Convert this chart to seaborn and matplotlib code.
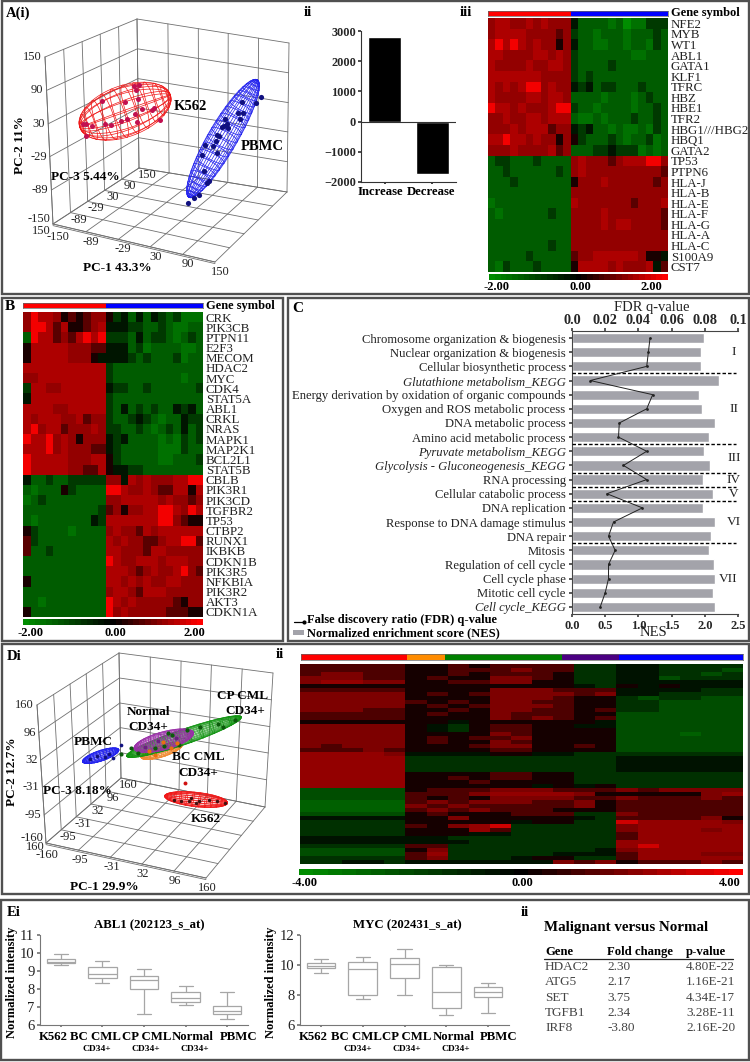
import numpy as np
import pandas as pd
import matplotlib
matplotlib.use("Agg")
import matplotlib.pyplot as plt
from matplotlib.colors import LinearSegmentedColormap
from matplotlib.patches import Rectangle
import seaborn as sns

# ---------- data ----------
# PCA A: PC-1, PC-2 per sample (K562 sits at PC-3 = -60, PBMC at PC-3 = 0)
a_k562_pc1 = [-137, -131, -120, -99, -95, -84, -66, -57, -55, -40, -36, -40, -36, -30, -34, -26, -7, -4, 6, -131]
a_k562_pc2 = [8, 9, 7, 58, 17, 17, 28, 65, 35, 46, 33, 98, 93, 103, 76, 59, 61, 65, 46, -14]
a_pbmc_pc1 = [28, 40, 49, 65, 69, 59, 55, 84, 61, 76, 82, 88, 94, 96, 103, 105, 98, 123, 132, 127, 131, 156, 165, 84]
a_pbmc_pc2 = [-128, -116, -109, -83, -78, -61, -31, -22, -11, -10, 1, 12, 30, 32, 38, 30, 46, 62, 64, 52, 85, 88, 101, 13]
a_ticks = [-150, -89, -29, 30, 90, 150]

# PCA D: PC-1, PC-2 per sample (all at PC-3 = 0)
d_k562_pc1 = [30, 44, 61, 82, 103, 119, 136, 65, 76]
d_k562_pc2 = [-90, -89, -87, -80, -75, -74, -75, -79, -87]
d_k562_out = [53, -46]
d_pbmc_pc1 = [-77, -143, -127, -112, -95, -102]
d_pbmc_pc2 = [18, -31, -20, -19, -17, -9]
d_cp_pc1 = [-79, -58, -43, -8, 17, 26, 55, 82, 117, 128, 151, 9, 40]
d_cp_pc2 = [-6, 13, 5, 25, 64, 63, 79, 91, 106, 101, 121, 33, 41]
d_bc_pc1 = [-20, 7, 23, 36, -8]
d_bc_pc2 = [15, 42, 30, 45, 8]
d_normal_pc1 = [-29, -2, 34]
d_normal_pc2 = [22, 43, 56]
d_ticks = [-160, -95, -31, 32, 96, 160]

# bars, panel A ii
change_labels = ["Increase", "Decrease"]
change_counts = [2800, -1720]

# heatmap cells: one digit per cell, see heat_levels
heat_levels = [-2, -1.6, -1.3, -0.8, -0.3, 0.2, 0.7, 1.15, 1.35, 1.9]

a_genes = ["NFE2", "MYB", "WT1", "ABL1", "GATA1", "KLF1", "TFRC", "HBZ", "HBE1", "TFR2", "HBG1///HBG2", "HBQ1",
           "GATA2", "TP53", "PTPN6", "HLA-J", "HLA-B", "HLA-E", "HLA-F", "HLA-G", "HLA-A", "HLA-C", "S100A9", "CST7"]
a_cells = [
    "78877878777|4222212011333", "78888777767|3221222122232", "89898787757|4221122122132",
    "88777788787|3222222211222", "87777877887|3222232222222", "88888887777|3232222222222",
    "87878997877|4342332223222", "87777887887|2222122212322", "98878777899|3221222212232",
    "77877887888|2112122232232", "77787888677|4342212112132", "88988787757|5322232122312",
    "77787777867|2223343331212", "23322232222|7877767888997", "22322222232|7877777777776",
    "22232222222|5777877777767", "22222222222|7777777777777", "12222222222|8777777767778",
    "21222222322|7777877777776", "22222222222|7777878877776", "22222222222|7777777777777",
    "22222222322|7777777777777", "22222322222|6778888887554", "21322232222|5888878777846",
]

b_genes = ["CRK", "PIK3CB", "PTPN11", "E2F3", "MECOM", "HDAC2", "MYC", "CDK4", "STAT5A", "ABL1", "CRKL", "NRAS",
           "MAPK1", "MAP2K1", "BCL2L1", "STAT5B", "CBLB", "PIK3R1", "PIK3CD", "TGFBR2", "TP53", "CTBP2", "RUNX1",
           "IKBKB", "CDKN1B", "PIK3R5", "NFKBIA", "PIK3R2", "AKT3", "CDKN1A"]
b_cells = [
    "79887565677|5342424323111", "79986855678|4443322321122", "29886768989|3332423321232",
    "58888877766|4442312222112", "58888877754|4443232223122", "88888888888|3222222222222",
    "77888888888|3222222222122", "38877888888|4332232222223", "48888888888|3222222222222",
    "88887788888|3242323224342", "87888778677|3223432122433", "89788677787|3322321232423",
    "98897875777|4342222121323", "88897877766|4322222111322", "98888877788|5322222112223",
    "98888877668|5443322222222", "42232233333|7748787778899", "21222532222|9987787668858",
    "12322222222|7788888787767", "22222222223|6757788998798", "21222222243|8888888997655",
    "53222212222|7877687888888", "63222222222|8787766788996", "62232222222|8877768877777",
    "22222222222|9877888788877", "22222222222|8887678778976", "52222222222|8878787788777",
    "22222222222|7887688877777", "22122222222|9878777776577", "52222222222|9787777766655",
]

d_cells = [
    "66666|5565666633|443333", "66666|5566676633|443332", "67766|5565666533|443323", "77766|5655776533|442333",
    "78877|5566775533|444444", "55555|5555555543|545444", "66666|5555777666|444433", "77777|5656777767|443333",
    "77777|5555777655|323322", "77777|6565776655|332222", "77777|5656777655|332222", "77766|5565776656|332222",
    "66666|5655766655|222222", "66666|5555767656|222222", "55555|5545555554|222222", "77777|5435665544|222222",
    "77777|5435665555|222222", "77777|5555765555|222122", "77777|5656675555|222222", "77777|5655765555|222222",
    "76777|5556775565|222222", "66676|5555665555|222222", "88887|4444554433|333333", "88888|3333333333|444444",
    "88888|3333333333|444444", "88888|3333333333|444444", "88888|3333333333|444444", "88888|5555665533|333333",
    "88888|5565665533|333333", "88888|5556555533|333333", "88888|5555554545|333333", "22222|5666777666|767777",
    "22222|6667888875|555578", "22222|6565777766|766676", "11111|6767776675|666666", "11111|7676666675|666666",
    "11111|6767666555|666666", "22222|5655566633|766666", "44444|5575555543|666675", "33333|5555545533|988887",
    "33333|6578933333|788888", "33333|5558633333|788878", "33333|5554433333|688888", "44444|4433333333|688888",
    "44444|4443333333|888888", "33333|6633333333|898888", "22222|5733333334|788888", "22222|6833333444|688877",
    "33333|6733345533|688888", "33443|4444444767|566676",
]

# enrichment, panel C
terms = ["Chromosome organization & biogenesis", "Nuclear organization & biogenesis", "Cellular biosynthetic process",
         "Glutathione metabolism_KEGG", "Energy derivation by oxidation of organic compounds",
         "Oxygen and ROS metabolic process", "DNA metabolic process", "Amino acid metabolic process",
         "Pyruvate metabolism_KEGG", "Glycolysis - Gluconeogenesis_KEGG", "RNA processing",
         "Cellular catabolic process", "DNA replication", "Response to DNA damage stimulus", "DNA repair", "Mitosis",
         "Regulation of cell cycle", "Cell cycle phase", "Mitotic cell cycle", "Cell cycle_KEGG"]
nes = [1.99, 1.94, 1.95, 2.21, 1.92, 1.96, 2.15, 2.06, 1.99, 2.08, 1.98, 2.13, 1.98, 2.15, 2.10, 2.07, 2.14, 2.15, 2.12, 2.15]
fdr = [.047, .046, .045, .011, .0486, .045, .0285, .028, .045, .031, .045, .021, .0424, .025, .022, .026, .022, .022, .020, .017]
term_breaks = [2.5, 7.5, 9.5, 10.5, 11.5, 14.5]

# box plots, panel E: whisker low, q1, median, q3, whisker high
box_groups = ["K562", "BC CML", "CP CML", "Normal", "PBMC"]
abl1_stats = [[9.34, 9.43, 9.52, 9.65, 9.93], [8.32, 8.6, 8.82, 9.21, 9.58], [6.6, 8.0, 8.5, 8.73, 9.1],
              [7.09, 7.27, 7.51, 7.83, 8.14], [6.33, 6.59, 6.79, 7.03, 7.83]]
myc_stats = [[9.45, 9.83, 9.96, 10.12, 10.38], [7.73, 7.99, 9.76, 10.2, 10.56], [7.99, 9.14, 10.08, 10.5, 11.05],
             [6.69, 7.13, 8.19, 9.9, 10.0], [6.82, 7.9, 8.19, 8.52, 8.83]]

# table, panel E ii
table_genes = ["HDAC2", "ATG5", "SET", "TGFB1", "IRF8"]
table_fold = ["2.30", "2.17", "3.75", "2.34", "-3.80"]
table_p = ["4.80E-22", "1.16E-21", "4.34E-17", "3.28E-11", "2.16E-20"]

# ---------- setup ----------
W, H = 750, 1062
sns.set_theme(style="white")
plt.rcParams["font.family"] = ["Liberation Serif", "DejaVu Serif"]
plt.rcParams["axes.linewidth"] = 0.8

fig = plt.figure(figsize=(W / 100, H / 100), dpi=100, facecolor="white")
heat_cmap = LinearSegmentedColormap.from_list("gbr", ["#008c00", "#000000", "#ff0000"])


def px_axes(x0, y0, x1, y1):
    return fig.add_axes([x0 / W, 1 - y1 / H, (x1 - x0) / W, (y1 - y0) / H])


over = fig.add_axes([0, 0, 1, 1], zorder=10)
over.set_xlim(0, W)
over.set_ylim(H, 0)
over.axis("off")


def put(x, y, s, size=9.5, weight="normal", ha="center", color="black", **kw):
    over.text(x, y, s, fontsize=size, fontweight=weight, ha=ha, va="center", color=color, **kw)


def frame(x0, y0, x1, y1):
    over.add_patch(Rectangle((x0, y0), x1 - x0, y1 - y0, fill=False, ec="#505050", lw=1.7))


def parse_cells(rows):
    return np.array([[heat_levels[int(c)] for c in r.replace("|", "")] for r in rows])


def heat(cells, box, vmax=2.0, gain=1.0, genes=None):
    ax = px_axes(*box)
    labels = genes if genes is not None else False
    sns.heatmap(parse_cells(cells) * gain, ax=ax, cmap=heat_cmap, vmin=-vmax, vmax=vmax, cbar=False,
                xticklabels=False, yticklabels=labels)
    if genes is not None:
        ax.yaxis.tick_right()
        ax.tick_params(axis="y", length=0, pad=2, labelsize=9.3, labelrotation=0, labelcolor="#222222")
    return ax


def colour_key(box, ticks):
    ax = px_axes(*box)
    sns.heatmap(np.linspace(-2, 2, 31).reshape(1, -1), ax=ax, cmap=heat_cmap, vmin=-2, vmax=2, cbar=False,
                xticklabels=False, yticklabels=False)
    for x, label in ticks:
        put(x, box[3] + 7.5, label, size=9, weight="bold")


def strip(box, widths, colours):
    ax = px_axes(*box)
    left = 0
    for w, c in zip(widths, colours):
        ax.barh(0, w, left=left, height=1, color=c, lw=0)
        left += w
    ax.set_xlim(0, left)
    ax.set_ylim(-0.5, 0.5)
    ax.set_xticks([])
    ax.set_yticks([])
    for s in ax.spines.values():
        s.set_color("#666666")
        s.set_linewidth(0.5)


# ---------- pseudo 3D pca boxes ----------
def project(box, p1, p2, p3):
    p1, p2, p3 = np.asarray(p1, float), np.asarray(p2, float), np.asarray(p3, float)
    lim = box["lim"]
    u, v, w = (p1 + lim) / (2 * lim), (p2 + lim) / (2 * lim), (p3 + lim) / (2 * lim)
    xy = []
    for i in range(2):
        floor = ((1 - u) * (1 - w) * box["floor"][0][i] + u * (1 - w) * box["floor"][1][i]
                 + (1 - u) * w * box["floor"][2][i] + u * w * box["floor"][3][i])
        top = ((1 - u) * (1 - w) * box["top"][0][i] + u * (1 - w) * box["top"][1][i]
               + (1 - u) * w * box["top"][2][i] + u * w * box["top"][3][i])
        xy.append(floor * (1 - v) + top * v)
    return xy


def draw_box(box, ticks):
    lim = box["lim"]
    segs = []
    for t in ticks:
        segs += [((t, -lim, -lim), (t, -lim, lim)), ((-lim, -lim, t), (lim, -lim, t)),
                 ((-lim, -lim, t), (-lim, lim, t)), ((-lim, t, -lim), (-lim, t, lim)),
                 ((t, -lim, lim), (t, lim, lim)), ((-lim, t, lim), (lim, t, lim))]
    segs.append(((-lim, -lim, -lim), (-lim, lim, -lim)))
    for a, b in segs:
        x, y = project(box, [a[0], b[0]], [a[1], b[1]], [a[2], b[2]])
        over.plot(x, y, color="#707070", lw=0.6, zorder=1)
    for off in (0, 1.6):
        x, y = project(box, [-lim, lim], [-lim, -lim], [-lim, -lim])
        over.plot(x, y + off, color="#707070", lw=0.6, zorder=1)


def wire(box, centre, a, b, c, colour, n_lat, n_lon, lw=0.5):
    centre, a, b, c = [np.array(q, float) for q in (centre, a, b, c)]
    pts = lambda th, ph: (centre[:, None] + a[:, None] * np.cos(th) + b[:, None] * np.sin(th) * np.cos(ph)
                          + c[:, None] * np.sin(th) * np.sin(ph))
    t = np.linspace(0, np.pi, 40)
    for ph in np.linspace(0, 2 * np.pi, n_lon, endpoint=False):
        x, y = project(box, *pts(t, np.full_like(t, ph)))
        over.plot(x, y, color=colour, lw=lw, zorder=2)
    f = np.linspace(0, 2 * np.pi, 60)
    for th in np.linspace(0, np.pi, n_lat + 2)[1:-1]:
        x, y = project(box, *pts(np.full_like(f, th), f))
        over.plot(x, y, color=colour, lw=lw, zorder=2)


def dots(box, pc1, pc2, pc3, colour, size):
    x, y = project(box, pc1, pc2, np.full(len(pc1), pc3))
    sns.scatterplot(x=x, y=y, color=colour, s=size, linewidth=0, ax=over, zorder=3, legend=False)


box_a = {"lim": 150, "floor": [(53, 224), (215, 262), (139, 168), (287, 192)],
         "top": [(45, 57), (217, 97), (137, 19), (289, 43)]}
box_d = {"lim": 160, "floor": [(46, 843), (206, 878), (121, 778), (265, 807)],
         "top": [(37, 705), (207, 735), (119, 653), (273, 673)]}

# frames
frame(2, 1, 749, 294)
frame(2, 298, 283, 641)
frame(288, 298, 749, 641)
frame(2, 644, 749, 894)
frame(1, 900, 749, 1060)

# ---------- panel A i ----------
draw_box(box_a, a_ticks)
wire(box_a, (-58, 48, -60), (84, 48, 0), (14, -42, 0), (0, 0, 16), "#f01818", 12, 16)
wire(box_a, (94, 8, 0), (64, 125, 0), (24, -9, 0), (0, 0, 12), "#2222ee", 24, 16)
dots(box_a, a_k562_pc1, a_k562_pc2, -60, "#c21050", 13)
dots(box_a, a_pbmc_pc1, a_pbmc_pc2, 0, "#101080", 14)
for t in a_ticks:
    x, y = project(box_a, -150, t, -150)
    put(x - 3, y - (5 if t == -150 else 0), str(t), ha="right", size=9, color="#222222")
    x, y = project(box_a, t, -150, -150)
    put(x + 5, y + (13 if t == -150 else 10), str(t), size=9, color="#222222")
    if t > -150:
        x, y = project(box_a, -150, -150, t)
        put(x + 8, y + 7, str(t), size=9, color="#222222")
put(41, 231, "150", size=9, color="#222222")
put(6, 13, "A(i)", size=10.5, weight="bold", ha="left")
put(20, 145, "PC-2 11%", weight="bold", rotation=90)
put(85, 177, "PC-3 5.44%", weight="bold")
put(117, 268, "PC-1 43.3%", weight="bold")
put(190, 106, "K562", size=10.5, weight="bold")
put(262, 147, "PBMC", size=10.5, weight="bold")

# ---------- panel A ii ----------
put(308, 13, "ii", size=10.5, weight="bold")
ax = px_axes(361, 31, 456, 182)
sns.barplot(x=change_labels, y=change_counts, color="black", saturation=1, width=0.7, ax=ax)
ax.set_ylim(-2000, 3000)
ax.axhline(0, color="#333333", lw=0.8)
sns.despine(ax=ax)
ax.set_yticks([-2000, -1000, 0, 1000, 2000, 3000])
ax.set_xticklabels([])
ax.tick_params(axis="y", labelsize=8.8, left=True, length=2.5, pad=1, color="#333333")
ax.tick_params(axis="x", bottom=True, length=1.5)
for lab in ax.get_yticklabels():
    lab.set_fontweight("bold")
for s in ax.spines.values():
    s.set_color("#333333")
put(380, 192, change_labels[0], size=9.2, weight="bold")
put(431, 192, change_labels[1], size=9.2, weight="bold")

# ---------- panel A iii ----------
put(466, 13, "iii", size=10.5, weight="bold")
strip((488, 10.5, 668, 16), [83, 97], ["#ff0000", "#0000ff"])
heat(a_cells, (488, 18, 668, 272), genes=a_genes)
put(671, 13, "Gene symbol", size=9, weight="bold", ha="left")
colour_key((489, 274, 668, 280), [(497, "-2.00"), (580, "0.00"), (651, "2.00")])

# ---------- panel B ----------
put(10, 307, "B", size=11, weight="bold")
strip((23, 303, 203, 308), [83, 97], ["#ff0000", "#0000ff"])
heat(b_cells, (23, 312, 203, 617), genes=b_genes)
put(206, 306, "Gene symbol", size=9, weight="bold", ha="left")
colour_key((23, 619, 203, 625), [(31, "-2.00"), (115, "0.00"), (194, "2.00")])

# ---------- panel C ----------
put(298, 309, "C", size=11, weight="bold")
ax = px_axes(572, 331, 738, 614)
sns.barplot(x=nes, y=terms, orient="h", color="#a3a3aa", saturation=1, width=0.72, ax=ax)
ax.set_xlim(0, 2.5)
ax.set_ylim(19.5, -0.5)
ax.hlines(term_breaks, 0, 2.47, color="black", lw=1, linestyles=(0, (2.5, 1.5)), zorder=3)
sns.despine(ax=ax)
ax.tick_params(axis="y", left=True, length=2.5, pad=2, labelsize=9.1, color="#444444", labelcolor="#222222")
ax.tick_params(axis="x", bottom=True, length=2, pad=2, labelsize=9, color="#444444")
ax.set_xticks([0, 0.5, 1, 1.5, 2, 2.5])
ax.set_xticklabels(["0.0", "0.5", "1.0", "1.5", "2.0", "2.5"], fontweight="bold")
for lab in ax.get_yticklabels():
    if "KEGG" in lab.get_text():
        lab.set_fontstyle("italic")
for s in ax.spines.values():
    s.set_color("#444444")
top = ax.twiny()
sns.lineplot(x=fdr, y=np.arange(len(fdr)), sort=False, orient="y", color="#222222", lw=0.7, marker="o", ms=2,
             markeredgewidth=0, ax=top, estimator=None)
top.set_xlim(0, 0.1)
top.set_ylim(19.5, -0.5)
top.set_xticks([0, .02, .04, .06, .08, .1])
top.set_xticklabels(["0.0", "0.02", "0.04", "0.06", "0.08", "0.1"], fontweight="bold", fontsize=10.3)
top.tick_params(axis="x", top=True, length=2, pad=1, color="#444444")
for name, s in top.spines.items():
    s.set_visible(name == "top")
    s.set_color("#444444")
put(652, 307, "FDR q-value", size=10.5, color="#222222")
put(653, 633, "NES", size=10.5, color="#222222")
for label, row in [("I", 1), ("II", 5), ("III", 8.5), ("IV", 10), ("V", 11), ("VI", 13), ("VII", 17)]:
    put(734 if label != "VII" else 728, 338 + 14.16 * row, label, size=9.5, color="#222222")
over.plot([294, 304], [622, 622], color="black", lw=0.9, marker="o", ms=2, markevery=[1])
over.add_patch(Rectangle((293, 630), 11, 5, color="#a3a3aa", lw=0))
put(307, 620, "False discovery ratio (FDR) q-value", size=9, weight="bold", ha="left")
put(307, 633, "Normalized enrichment score (NES)", size=9, weight="bold", ha="left")

# ---------- panel D i ----------
draw_box(box_d, d_ticks)
wire(box_d, (-120, -18, 0), (37.5, 23, 0), (4, -11, 0), (0, 0, 6), "#2222ee", 16, 18)
wire(box_d, (5, 20, 0), (42, 24, 0), (3, -13, 0), (0, 0, 6), "#f08a30", 14, 18)
wire(box_d, (48.5, 61.6, 0), (115, 69, 0), (5, -16, 0), (0, 0, 6), "#129412", 14, 20)
wire(box_d, (9, 45, 0), (60, 31, 0), (4, -20, 0), (0, 0, 6), "#9a30a8", 16, 20)
wire(box_d, (76, -79, 0), (65, 6, 0), (-2, -17, 0), (0, 0, 6), "#f01818", 14, 20)
dots(box_d, d_pbmc_pc1, d_pbmc_pc2, 0, "#101080", 7)
dots(box_d, d_cp_pc1, d_cp_pc2, 0, "#0c5a0c", 9)
dots(box_d, d_bc_pc1, d_bc_pc2, 0, "#e87010", 9)
dots(box_d, d_normal_pc1, d_normal_pc2, 0, "#6a2080", 8)
dots(box_d, d_k562_pc1, d_k562_pc2, 0, "#401010", 6)
dots(box_d, [d_k562_out[0]], [d_k562_out[1]], 0, "#d01010", 8)
for t in d_ticks:
    x, y = project(box_d, -160, t, -160)
    put(x - 3, y - (5 if t == -160 else 0), str(t), ha="right", size=9, color="#222222")
    x, y = project(box_d, t, -160, -160)
    put(x + 1, y + (12 if t == -160 else 10), str(t), size=9, color="#222222")
    if t > -160:
        x, y = project(box_d, -160, -160, t)
        put(x + 7, y + 7, str(t), size=9, color="#222222")
put(35, 847, "160", size=9, color="#222222")
put(7, 657, "Di", size=10.5, weight="bold", ha="left")
put(280, 655, "ii", size=10.5, weight="bold")
put(12, 772, "PC-2 12.7%", weight="bold", rotation=90)
put(77, 791, "PC-3 8.18%", weight="bold")
put(104, 887, "PC-1 29.9%", weight="bold")
put(93, 742, "PBMC", weight="bold")
for x, y, label in [(148, 712, "Normal"), (148, 727, "CD34+"), (243, 696, "CP CML"), (245, 711, "CD34+"),
                    (198, 757, "BC CML"), (198, 773, "CD34+"), (206, 819, "K562")]:
    put(x, y, label, weight="bold")

# ---------- panel D ii ----------
strip((301, 654, 743, 660), [106, 38, 117, 57, 124], ["#ff0000", "#ff8c00", "#008000", "#4b0082", "#0000ff"])
heat(d_cells, (300, 664, 743, 864), vmax=4.0, gain=1.7)
colour_key((299, 869, 743, 875), [(305, "-4.00"), (522, "0.00"), (730, "4.00")])

# ---------- panel E i ----------
put(7, 913, "Ei", size=10.5, weight="bold", ha="left")


def box_panel(rect, stats, ymin, ymax, ticks):
    ax = px_axes(*rect)
    df = pd.DataFrame({"group": np.repeat(box_groups, 5), "value": np.ravel(stats)})
    sns.boxplot(data=df, x="group", y="value", order=box_groups, color="white", linecolor="#a6a6a6", linewidth=0.9,
                width=0.68, whis=(0, 100), showfliers=False, ax=ax)
    ax.set_ylim(ymin, ymax)
    ax.set_yticks(ticks)
    ax.set_xticklabels([])
    ax.set_xlabel("")
    ax.set_ylabel("")
    sns.despine(ax=ax)
    ax.tick_params(axis="y", left=True, length=2.5, pad=1.5, labelsize=10.5, color="#777777", labelcolor="#222222")
    ax.tick_params(axis="x", bottom=True, length=1.5, color="#777777")
    for s in ax.spines.values():
        s.set_color("#777777")


box_panel((40, 935, 248, 1025), abl1_stats, 6, 11, [6, 7, 8, 9, 10, 11])
box_panel((300, 935, 509, 1025), myc_stats, 6, 12, [6, 8, 10, 12])
put(149, 925, "ABL1 (202123_s_at)", size=9.2, weight="bold")
put(407, 925, "MYC (202431_s_at)", size=9.2, weight="bold")
put(12, 982, "Normalized intensity", size=9, weight="bold", rotation=90)
put(271, 982, "Normalized intensity", size=9, weight="bold", rotation=90)
for x0, xs, subs in [(0, [53, 95, 147, 193, 239], [97, 146, 195]), (260, [313, 356, 407, 454, 499], [358, 407, 456])]:
    for x, label in zip(xs, box_groups):
        put(x, 1037, label, size=9.2, weight="bold")
    for x in subs:
        put(x, 1049, "CD34+", size=6.8, weight="bold")

# ---------- panel E ii ----------
put(525, 913, "ii", size=10.5, weight="bold")
put(544, 928, "Malignant versus Normal", size=10.8, weight="bold", ha="left")
for x, label in [(545, "Gene"), (607, "Fold change"), (686, "p-value")]:
    put(x, 952, label, size=9.2, weight="bold", ha="left")
over.plot([544, 733], [959, 959], color="#222222", lw=0.9)
for i, row_y in enumerate([967, 982, 998, 1013, 1028]):
    put(545, row_y, table_genes[i], ha="left", color="#444444")
    put(607, row_y, table_fold[i], ha="left", color="#444444")
    put(686, row_y, table_p[i], ha="left", color="#444444")

over.set_xlim(0, W)
over.set_ylim(H, 0)
fig.savefig("out.png", dpi=100)
